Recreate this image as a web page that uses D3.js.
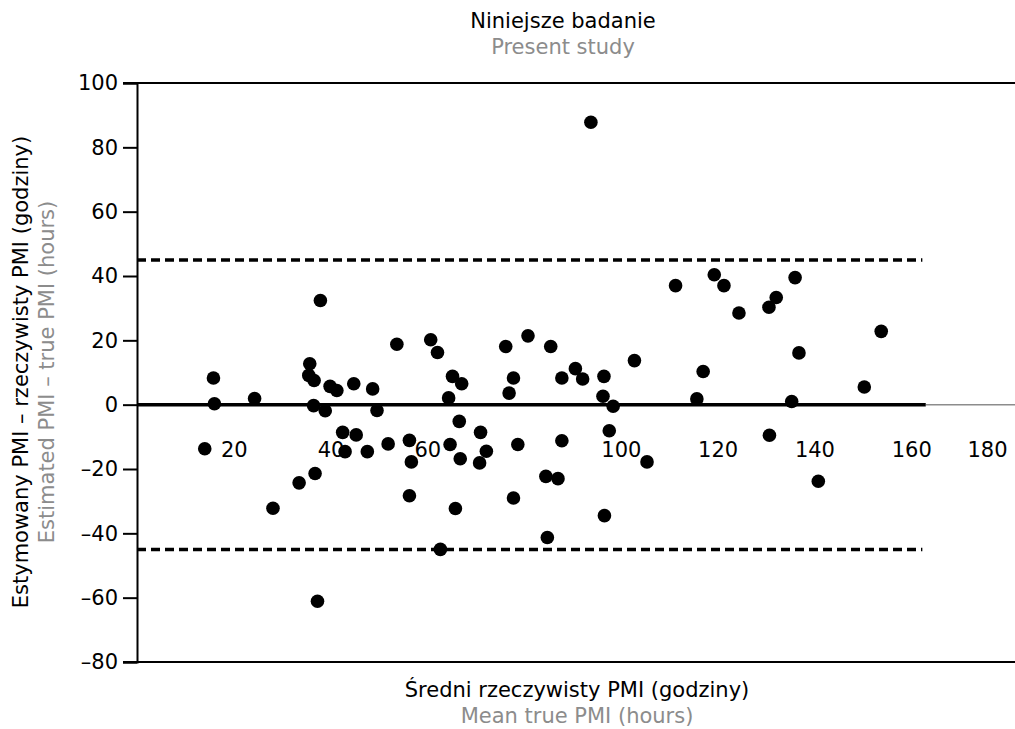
<!DOCTYPE html>
<html>
<head>
<meta charset="utf-8">
<script src="https://cdn.jsdelivr.net/npm/d3@7"></script>
<style>
	body { margin: 0; background: #fff; }
	text { font-family: "DejaVu Sans", "Open Sans", sans-serif; }
</style>
</head>
<body>
<svg id="chart" width="1015" height="729"></svg>
<script>
(function(){

// mean true PMI (hours)
var meanPMI = [
	14.0, 15.8, 16.0, 24.3, 28.1, 33.5, 35.5, 35.7, 36.5, 36.6,
	36.8, 37.3, 37.9, 38.9, 39.9, 41.3, 42.5, 43.0, 44.8, 45.3,
	47.6, 48.7, 49.6, 51.9, 53.7, 56.3, 56.3, 56.7, 60.7, 62.1,
	62.7, 64.4, 64.7, 65.2, 65.8, 66.6, 66.8, 67.1, 70.8, 71.0,
	72.2, 76.2, 76.9, 77.8, 77.8, 78.7, 80.8, 84.5, 84.8, 85.5,
	87.0, 87.8, 87.8, 90.6, 92.1, 93.8, 96.3, 96.5, 96.6, 97.6,
	98.4, 102.8, 105.4, 111.3, 115.7, 117.0, 119.3, 121.3, 124.4, 130.6,
	130.7, 132.1, 135.3, 136.0, 136.8, 140.8, 150.3, 153.8
];

// estimated PMI - true PMI (hours)
var diffPMI = [
	-13.7, 8.3, 0.3, 1.9, -32.2, -24.3, 9.1, 12.7, -0.3, 7.5,
	-21.4, -61.1, 32.4, -1.9, 5.7, 4.4, -8.6, -14.6, 6.5, -9.4,
	-14.6, 4.9, -1.8, -12.2, 18.8, -11.1, -28.3, -17.8, 20.2, 16.2,
	-45.0, 2.1, -12.4, 8.8, -32.3, -5.2, -16.8, 6.5, -18.1, -8.6,
	-14.5, 18.1, 3.6, 8.3, -29.0, -12.4, 21.4, -22.3, -41.3, 18.1,
	-23.0, 8.3, -11.2, 11.2, 8.0, 87.8, 2.6, 8.8, -34.5, -8.1,
	-0.5, 13.7, -17.8, 37.0, 1.8, 10.3, 40.4, 37.0, 28.5, 30.3,
	-9.5, 33.3, 1.0, 39.5, 16.1, -23.8, 5.5, 22.8
];

var xTicks = [20, 40, 60, 100, 120, 140, 160, 180];
var yTicks = [-80, -60, -40, -20, 0, 20, 40, 60, 80, 100];
var limits = [45, -45];   // limits of agreement
var meanBias = 0;

var TITLE = ["Niniejsze badanie", "Present study"];
var X_TITLE = ["Średni rzeczywisty PMI (godziny)", "Mean true PMI (hours)"];
var Y_TITLE = ["Estymowany PMI – rzeczywisty PMI (godziny)", "Estimated PMI – true PMI (hours)"];

var FONT = "DejaVu Sans, sans-serif";
var FONT_SIZE = "21px";
var GREY = "#8c8c8c";

var W = 1015;
var svg = d3.select("#chart");

var left = 137, right = W, top = 83, bottom = 662;

var x = d3.scaleLinear().domain([0, 180]).range([left, 1008]);
var y = d3.scaleLinear().domain([-80, 100]).range([bottom, top]);

var lineEnd = x(163);

// frame lines top / bottom
svg.selectAll("line.frame")
	.data([100, -80])
	.enter().append("line")
	.attr("x1", left - 14).attr("x2", right)
	.attr("y1", function(d) { return y(d); })
	.attr("y2", function(d) { return y(d); })
	.attr("stroke", "#000")
	.attr("stroke-width", 2);

// y axis
var yAxis = d3.axisLeft(y)
	.tickValues(yTicks)
	.tickSize(14)
	.tickPadding(5)
	.tickFormat(function(d) { return d < 0 ? "\u2013" + Math.abs(d) : d; });

var gy = svg.append("g")
	.attr("transform", "translate(" + left + ",0)")
	.call(yAxis);
gy.select(".domain").attr("stroke-width", 2);
gy.selectAll(".tick line").attr("stroke-width", 2);
gy.selectAll(".tick text")
	.attr("font-size", FONT_SIZE)
	.attr("font-family", FONT)
	.attr("fill", "#000");

// zero line: thick part then grey tail
svg.append("line")
	.attr("x1", lineEnd).attr("x2", right)
	.attr("y1", y(meanBias)).attr("y2", y(meanBias))
	.attr("stroke", GREY)
	.attr("stroke-width", 1.5);

svg.append("line")
	.attr("x1", left).attr("x2", lineEnd)
	.attr("y1", y(meanBias)).attr("y2", y(meanBias))
	.attr("stroke", "#000")
	.attr("stroke-width", 3.5);

// limits of agreement
svg.selectAll("line.limit")
	.data(limits)
	.enter().append("line")
	.attr("class", "limit")
	.attr("x1", left).attr("x2", x(162.3))
	.attr("y1", function(d) { return y(d); })
	.attr("y2", function(d) { return y(d); })
	.attr("stroke", "#000")
	.attr("stroke-width", 3.5)
	.attr("stroke-dasharray", "9,5");

// x tick labels, sitting inside the plot below zero
var xAxis = d3.axisBottom(x)
	.tickValues(xTicks)
	.tickSize(0)
	.tickPadding(0);

var gx = svg.append("g")
	.attr("transform", "translate(0," + y(-14) + ")")
	.call(xAxis);
gx.select(".domain").remove();
gx.selectAll(".tick text")
	.attr("dy", "0.35em")
	.attr("y", 0)
	.attr("font-size", FONT_SIZE)
	.attr("font-family", FONT)
	.attr("fill", "#000")
	.each(function(d) {
		// keep the last label inside the page
		var bb = this.getBBox();
		var over = x(d) + bb.x + bb.width - (W - 8);
		if(over > 0) {
			d3.select(this).attr("x", -over);
		}
	});

// points
svg.selectAll("circle.pt")
	.data(meanPMI)
	.enter().append("circle")
	.attr("class", "pt")
	.attr("cx", function(d) { return x(d); })
	.attr("cy", function(d, i) { return y(diffPMI[i]); })
	.attr("r", 6.8)
	.attr("fill", "#000");

// titles
function twoLines(lines, cx, cy, rotate) {
	var g = svg.append("g")
		.attr("transform", "translate(" + cx + "," + cy + ")" + (rotate ? " rotate(-90)" : ""));
	g.append("text")
		.attr("text-anchor", "middle")
		.attr("font-size", FONT_SIZE)
		.attr("font-family", FONT)
		.attr("fill", "#000")
		.text(lines[0]);
	g.append("text")
		.attr("text-anchor", "middle")
		.attr("y", 26)
		.attr("font-size", FONT_SIZE)
		.attr("font-family", FONT)
		.attr("fill", GREY)
		.text(lines[1]);
}

twoLines(TITLE, 563, 28, false);
twoLines(X_TITLE, 577, 697, false);
twoLines(Y_TITLE, 28, 372, true);

})();
</script>
</body>
</html>
